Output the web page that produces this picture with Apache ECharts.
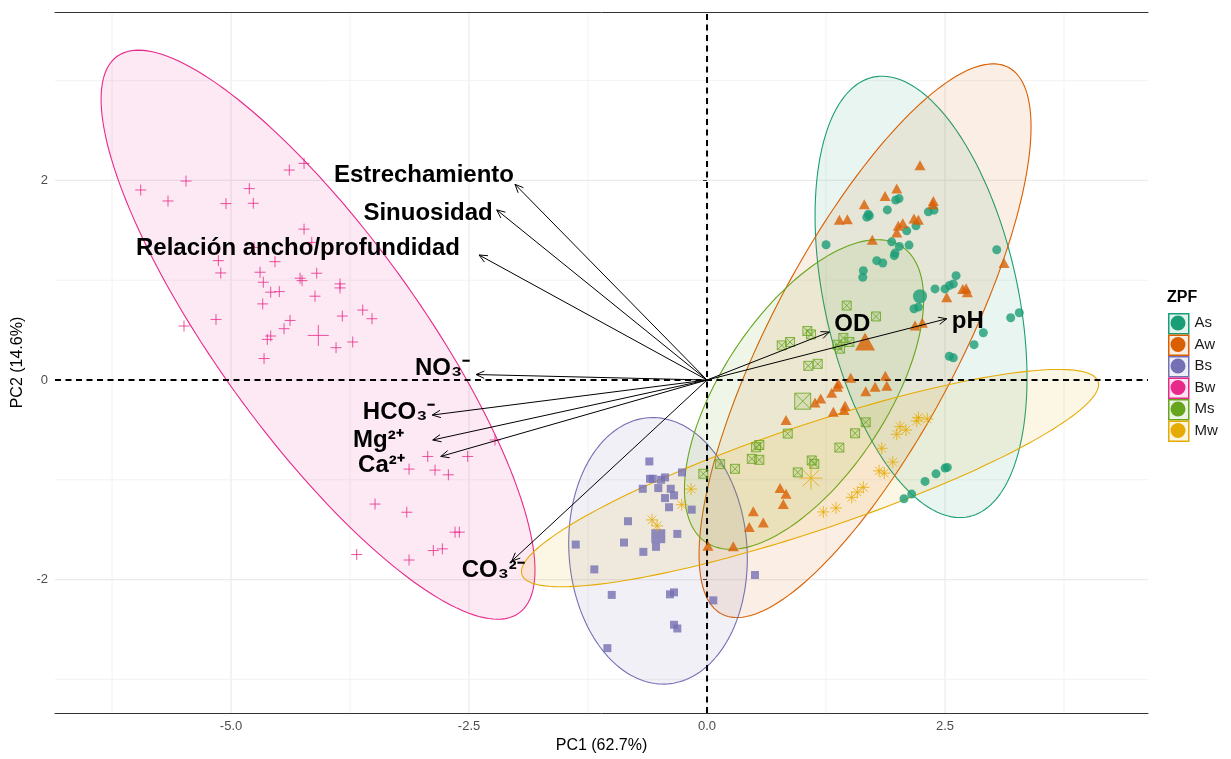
<!DOCTYPE html>
<html><head><meta charset="utf-8">
<script src="https://cdn.jsdelivr.net/npm/echarts@6/dist/echarts.min.js"></script>
<style>html,body{margin:0;padding:0;background:#fff}#c{width:1231px;height:759px}</style>
</head><body><div id="c"></div>
<script>
// ---------------- data ----------------
const groups = ['As', 'Aw', 'Bs', 'Bw', 'Ms', 'Mw'];
const colors = ['#1B9E77', '#D95F02', '#7570B3', '#E7298A', '#66A61E', '#E6AB02'];

const ptsAs = [[1.250,1.355],[1.694,1.662],[1.705,1.645],[1.678,1.632],[1.894,1.705],[1.982,1.804],[2.017,1.818],[2.325,1.685],[2.384,1.702],[2.098,1.495],[2.195,1.545],[1.940,1.385],[2.020,1.339],[2.122,1.352],[1.967,1.246],[1.975,1.272],[1.783,1.196],[1.846,1.173],[1.642,1.096],[1.636,1.030],[3.043,1.305],[2.616,1.046],[2.587,0.963],[2.545,0.946],[2.500,0.913],[2.395,0.913],[2.174,0.714],[2.220,0.731],[2.902,0.474],[2.805,0.354],[2.545,0.238],[2.587,0.222],[3.190,0.624],[3.280,0.674],[2.290,-1.016],[2.405,-0.940],[2.500,-0.883],[2.524,-0.876],[2.069,-1.190],[2.150,-1.143]];
const ptsAw = [[2.237,2.151],[1.652,1.761],[1.870,1.844],[1.993,1.918],[2.377,1.794],[2.371,1.761],[1.390,1.605],[1.474,1.612],[2.174,1.619],[2.220,1.605],[2.009,1.545],[2.056,1.572],[1.993,1.479],[1.736,1.405],[3.120,1.173],[2.686,0.913],[2.721,0.920],[2.734,0.880],[2.518,0.830],[2.185,0.547],[2.262,0.574],[1.509,0.022],[1.873,0.042],[1.379,-0.035],[1.369,-0.068],[1.888,-0.058],[1.765,-0.068],[1.667,-0.112],[1.310,-0.128],[1.194,-0.185],[1.134,-0.225],[1.327,-0.317],[1.450,-0.257],[1.439,-0.301],[0.830,-0.401],[0.767,-1.083],[0.830,-1.140],[0.801,-1.243],[0.486,-1.315],[0.591,-1.429],[0.444,-1.472],[0.276,-1.665],[0.010,-1.660]];
const ptsBs = [[-0.606,-0.816],[-0.599,-0.990],[-0.570,-0.990],[-0.483,-1.000],[-0.441,-0.976],[-0.675,-1.090],[-0.512,-1.083],[-0.381,-1.090],[-0.441,-1.183],[-0.347,-1.156],[-0.263,-0.926],[-0.399,-1.275],[-0.161,-1.299],[-0.830,-1.415],[-0.872,-1.629],[-0.669,-1.722],[-0.536,-1.672],[-0.312,-1.542],[-1.379,-1.649],[-1.184,-1.898],[-1.001,-2.154],[-0.389,-2.148],[-0.347,-2.128],[0.504,-1.954],[0.066,-2.208],[-0.347,-2.453],[-0.312,-2.490],[-1.047,-2.687]];
const ptsBw = [[-5.949,1.904],[-5.473,1.994],[-5.662,1.794],[-4.808,1.918],[-5.053,1.768],[-4.766,1.771],[-4.388,2.104],[-4.233,2.171],[-4.233,1.512],[-4.152,1.379],[-4.758,1.329],[-5.133,1.196],[-5.108,1.073],[-4.538,1.186],[-4.695,1.080],[-4.661,0.980],[-4.583,0.880],[-4.493,0.886],[-4.275,1.020],[-4.254,0.996],[-4.100,1.070],[-3.855,0.963],[-3.855,0.923],[-4.118,0.840],[-4.667,0.763],[-5.158,0.607],[-5.494,0.541],[-4.380,0.597],[-4.443,0.514],[-4.583,0.441],[-4.619,0.407],[-3.831,0.641],[-3.617,0.701],[-3.519,0.614],[-3.722,0.381],[-3.897,0.324],[-4.653,0.215],[-2.227,-0.601],[-2.934,-0.766],[-2.514,-0.766],[-3.130,-0.893],[-2.857,-0.903],[-2.717,-0.950],[-3.487,-1.243],[-3.154,-1.325],[-2.647,-1.525],[-2.602,-1.525],[-3.680,-1.749],[-3.130,-1.804],[-2.875,-1.709],[-2.780,-1.692]];
const ptsMs = [[1.467,0.746],[1.775,0.637],[1.054,0.491],[1.092,0.457],[0.785,0.347],[0.872,0.381],[1.432,0.421],[1.369,0.354],[1.397,0.314],[1.495,0.381],[1.064,0.142],[1.163,0.162],[1.667,-0.424],[1.555,-0.534],[0.848,-0.537],[0.515,-0.674],[0.549,-0.651],[0.470,-0.790],[0.549,-0.800],[1.390,-0.677],[1.100,-0.806],[1.127,-0.840],[0.953,-0.926],[0.137,-0.843],[0.294,-0.890],[-0.039,-0.940]];
const ptsMw = [[-0.168,-1.093],[-0.266,-1.250],[-0.578,-1.402],[-0.525,-1.462],[2.220,-0.377],[2.203,-0.411],[2.314,-0.391],[2.027,-0.467],[2.090,-0.501],[1.993,-0.544],[1.835,-0.684],[1.951,-0.823],[1.807,-0.910],[1.862,-0.933],[1.642,-1.076],[1.579,-1.123],[1.520,-1.176],[1.355,-1.282],[1.222,-1.322]];

// group means (large symbols)
const groupMeans = [[2.237,0.840],[1.660,0.387],[-0.512,-1.565],[-4.083,0.447],[1.005,-0.212],[1.092,-0.983]];

// confidence ellipses: centre x, centre y, semi-axis vector 1 (x,y), semi-axis vector 2 (x,y)
const ellipseAs = [2.248, 0.833, -0.503, 2.202, 0.993, 0.205];
const ellipseAw = [1.660, 0.394, 1.504, 2.740, 0.882, -0.437];
const ellipseBs = [-0.515, -1.712, -0.098, 1.334, 0.933, 0.062];
const ellipseBw = [-4.086, 0.454, -2.110, 2.790, 0.861, 0.589];
const ellipseMs = [1.019, -0.145, 1.026, 1.484, 0.725, -0.452];
const ellipseMw = [1.082, -0.983, 3.026, 0.968, 0.176, -0.499];

// variable loadings (arrow tips)
const varNames = ['Estrechamiento', 'Sinuosidad', 'Relación ancho/profundidad', 'NO₃⁻', 'HCO₃⁻', 'Mg²⁺', 'Ca²⁺', 'CO₃²⁻', 'OD', 'pH'];
const varLoadings = [[-2.017,1.961],[-2.209,1.705],[-2.395,1.253],[-2.426,0.055],[-2.886,-0.351],[-2.881,-0.601],[-2.797,-0.766],[-2.051,-1.814],[1.285,0.481],[2.518,0.614]];

// axis ticks
const xTicks = [-5, -2.5, 0, 2.5];
const yTicks = [-2, 0, 2];
const xMinorTicks = [-6.25, -3.75, -1.25, 1.25, 3.75];
const yMinorTicks = [-3, -1, 1, 3];

// ---------------- layout / style ----------------
const xMin = -6.849, xMax = 4.632, yMin = -3.338, yMax = 3.688;
const FONT = '"Liberation Sans", Arial, Helvetica, sans-serif';
// label nudges in pixels relative to arrow tip
const labelNudge = [[-1,-9],[-4,3],[-19,-6.5],[-6,-6],[3,-3],[-29,0],[-36,9.4],[13,9],[5,-7.3],[5,2.5]];

const ptsByGroup = [ptsAs, ptsAw, ptsBs, ptsBw, ptsMs, ptsMw];
const ellipsesByGroup = [ellipseAs, ellipseAw, ellipseBs, ellipseBw, ellipseMs, ellipseMw];

function rgba(hex, a) {
  const n = parseInt(hex.slice(1), 16);
  return 'rgba(' + (n >> 16 & 255) + ',' + (n >> 8 & 255) + ',' + (n & 255) + ',' + a + ')';
}

const PLUS = 'path://M0,5L10,5M5,0L5,10';
const BOXX = 'path://M0,0L10,0L10,10L0,10ZM0,0L10,10M10,0L0,10';
const STAR = 'path://M5,0L5,10M0,5L10,5M1.46,1.46L8.54,8.54M8.54,1.46L1.46,8.54';

const symbolStyles = [
  { symbol: 'circle', size: 9, meanSize: 14, stroke: false },
  { symbol: 'triangle', size: [11, 10], meanSize: [20, 18], stroke: false },
  { symbol: 'rect', size: 8, meanSize: 14, stroke: false },
  { symbol: PLUS, size: 11, meanSize: 21, stroke: true, fill: 'rgba(0,0,0,0)' },
  { symbol: BOXX, size: 9, meanSize: 16, stroke: true, fill: 'rgba(102,166,30,0.18)' },
  { symbol: STAR, size: 12, meanSize: 23, stroke: true, fill: 'rgba(0,0,0,0)' }
];

const series = [];

// grid lines
const gridItems = [];
xTicks.forEach(v => gridItems.push([0, v]));
xMinorTicks.forEach(v => gridItems.push([1, v]));
yTicks.forEach(v => gridItems.push([2, v]));
yMinorTicks.forEach(v => gridItems.push([3, v]));
series.push({
  type: 'custom', name: '_grid', silent: true, z: 0,
  data: gridItems,
  renderItem: function (params, api) {
    const k = api.value(0), v = api.value(1);
    let p1, p2;
    if (k < 2) { p1 = api.coord([v, yMin]); p2 = api.coord([v, yMax]); }
    else { p1 = api.coord([xMin, v]); p2 = api.coord([xMax, v]); }
    const major = (k === 0 || k === 2);
    return { type: 'line', shape: { x1: p1[0], y1: p1[1], x2: p2[0], y2: p2[1] },
      style: { stroke: major ? '#ebebeb' : '#f3f3f3', lineWidth: major ? 1.2 : 1 } };
  }
});

// ellipses
groups.forEach((g, gi) => {
  const e = ellipsesByGroup[gi];
  series.push({
    type: 'custom', name: g, silent: true, z: 1,
    data: [[e[0], e[1]]],
    renderItem: function (params, api) {
      const pts = [];
      for (let k = 0; k <= 180; k++) {
        const t = 2 * Math.PI * k / 180;
        pts.push(api.coord([e[0] + e[2] * Math.cos(t) + e[4] * Math.sin(t), e[1] + e[3] * Math.cos(t) + e[5] * Math.sin(t)]));
      }
      return { type: 'polygon', shape: { points: pts },
        style: { fill: rgba(colors[gi], 0.1), stroke: colors[gi], lineWidth: 1.1 } };
    }
  });
});

// reference dashed lines
series.push({
  type: 'custom', name: '_ref', silent: true, z: 2,
  data: [[0, 0]],
  renderItem: function (params, api) {
    const a1 = api.coord([0, yMin]), a2 = api.coord([0, yMax]);
    const b1 = api.coord([xMin, 0]), b2 = api.coord([xMax, 0]);
    const st = { stroke: '#000', lineWidth: 2, lineDash: [6, 4.5] };
    return { type: 'group', children: [
      { type: 'line', shape: { x1: a1[0], y1: a1[1], x2: a2[0], y2: a2[1] }, style: st },
      { type: 'line', shape: { x1: b1[0], y1: b1[1], x2: b2[0], y2: b2[1] }, style: st }
    ] };
  }
});

// points
groups.forEach((g, gi) => {
  const s = symbolStyles[gi];
  const itemStyle = s.stroke
    ? { color: s.fill, borderColor: colors[gi], borderWidth: 1 }
    : { color: colors[gi], borderWidth: 0 };
  series.push({ type: 'scatter', name: g, z: 3, silent: true, symbol: s.symbol, symbolSize: s.size,
    itemStyle: itemStyle, data: ptsByGroup[gi] });
  series.push({ type: 'scatter', name: g, z: 3, silent: true, symbol: s.symbol, symbolSize: s.meanSize,
    itemStyle: itemStyle, data: [groupMeans[gi]] });
});

// arrows and labels
series.push({
  type: 'custom', name: '_arrows', silent: true, z: 5,
  data: varLoadings,
  renderItem: function (params, api) {
    const i = params.dataIndex;
    const o = api.coord([0, 0]);
    const t = api.coord([api.value(0), api.value(1)]);
    const ang = Math.atan2(t[1] - o[1], t[0] - o[0]);
    const L = 9, A = 0.42;
    const h1 = [t[0] - L * Math.cos(ang - A), t[1] - L * Math.sin(ang - A)];
    const h2 = [t[0] - L * Math.cos(ang + A), t[1] - L * Math.sin(ang + A)];
    const off = labelNudge[i];
    return { type: 'group', children: [
      { type: 'line', shape: { x1: o[0], y1: o[1], x2: t[0], y2: t[1] }, style: { stroke: '#000', lineWidth: 1 } },
      { type: 'polyline', shape: { points: [h1, t, h2] }, style: { stroke: '#000', lineWidth: 1, fill: null } },
      { type: 'text', x: t[0] + off[0], y: t[1] + off[1],
        style: { text: varNames[i], fontSize: 24, fontWeight: 'bold', fontFamily: FONT, fill: '#000',
          align: api.value(0) < 0 ? 'right' : 'left', verticalAlign: 'middle' } }
    ] };
  }
});

const option = {
  animation: false,
  backgroundColor: '#fff',
  title: { text: 'ZPF', left: 1167, top: 290, padding: 0,
    textStyle: { fontSize: 16, fontWeight: 'bold', color: '#000', fontFamily: FONT } },
  grid: { left: 55, right: 83, top: 12, bottom: 43 },
  legend: [
    { orient: 'vertical', left: 1168, top: 313, padding: 0, itemGap: 0, itemWidth: 20, itemHeight: 20,
      icon: 'rect', selectedMode: false, formatter: () => '',
      textStyle: { fontSize: 10, lineHeight: 10 },
      data: groups.map((g, gi) => ({ name: g, itemStyle: { color: rgba(colors[gi], 0.12), borderColor: colors[gi], borderWidth: 1.5 } })) },
    { orient: 'vertical', left: 1170.5, top: 315.5, padding: 0, itemGap: 6.5, itemWidth: 15, itemHeight: 15,
      icon: 'circle', selectedMode: false,
      textStyle: { fontSize: 15, lineHeight: 15, color: '#1a1a1a', fontFamily: FONT, padding: [0, 0, 0, 4] },
      data: groups.map((g, gi) => ({ name: g, itemStyle: { color: colors[gi], borderWidth: 0 } })) }
  ],
  xAxis: [
    { type: 'value', min: xMin, max: xMax, position: 'bottom',
      axisLine: { show: true, onZero: false, lineStyle: { color: '#333', width: 1 } },
      axisTick: { show: false },
      axisLabel: { customValues: xTicks, formatter: v => Number(v).toFixed(1), color: '#4d4d4d', fontSize: 13, margin: 7, fontFamily: FONT },
      splitLine: { show: false },
      name: 'PC1 (62.7%)', nameLocation: 'middle', nameGap: 22,
      nameTextStyle: { fontSize: 16, color: '#000', fontFamily: FONT } },
    { type: 'value', min: xMin, max: xMax, position: 'top',
      axisLine: { show: true, onZero: false, lineStyle: { color: '#333', width: 1 } },
      axisTick: { show: false }, axisLabel: { show: false }, splitLine: { show: false } }
  ],
  yAxis: {
    type: 'value', min: yMin, max: yMax,
    axisLine: { show: false },
    axisTick: { show: true, customValues: yTicks, length: 4, lineStyle: { color: '#333' } },
    axisLabel: { customValues: yTicks, color: '#4d4d4d', fontSize: 13, margin: 7, fontFamily: FONT },
    splitLine: { show: false },
    name: 'PC2 (14.6%)', nameLocation: 'middle', nameGap: 21, nameRotate: 90,
    nameTextStyle: { fontSize: 16, color: '#000', fontFamily: FONT }
  },
  series: series
};

const chart = echarts.init(document.getElementById('c'), null, { renderer: 'canvas' });
chart.setOption(option);
</script>
</body></html>
